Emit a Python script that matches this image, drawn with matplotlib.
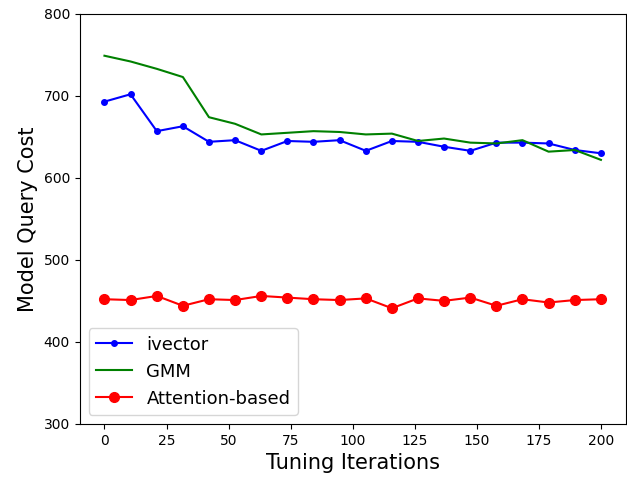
import matplotlib

matplotlib.use("Agg")
import matplotlib.pyplot as plt

iterations = [0, 10.5, 21.1, 31.6, 42.1, 52.6, 63.2, 73.7, 84.2, 94.7,
              105.3, 115.8, 126.3, 136.8, 147.4, 157.9, 168.4, 178.9, 189.5, 200]
ivector = [693, 702, 657, 663, 644, 646, 633, 645, 644, 646,
           633, 645, 644, 638, 633, 643, 643, 642, 634, 630]
gmm = [749, 742, 733, 723, 674, 666, 653, 655, 657, 656,
       653, 654, 645, 648, 643, 642, 646, 632, 634, 622]
attention = [452, 451, 456, 444, 452, 451, 456, 454, 452, 451,
             453, 441, 453, 450, 454, 444, 452, 448, 451, 452]

fig, ax = plt.subplots(figsize=(6.27, 4.8), dpi=100)
ax.plot(iterations, ivector, color="blue", marker=".", ms=8, lw=1.5, label="ivector")
ax.plot(iterations, gmm, color="green", lw=1.5, label="GMM")
ax.plot(iterations, attention, color="red", marker="o", ms=7, lw=1.5, label="Attention-based")

ax.set_ylim(300, 800)
ax.set_xticks(range(0, 201, 25))
ax.set_yticks(range(300, 801, 100))
ax.set_xlabel("Tuning Iterations", fontsize=15)
ax.set_ylabel("Model Query Cost", fontsize=15)
ax.legend(loc="lower left", fontsize=13)
fig.subplots_adjust(left=0.127, right=0.998, top=0.971, bottom=0.117)
fig.savefig("out.png", dpi=100)
